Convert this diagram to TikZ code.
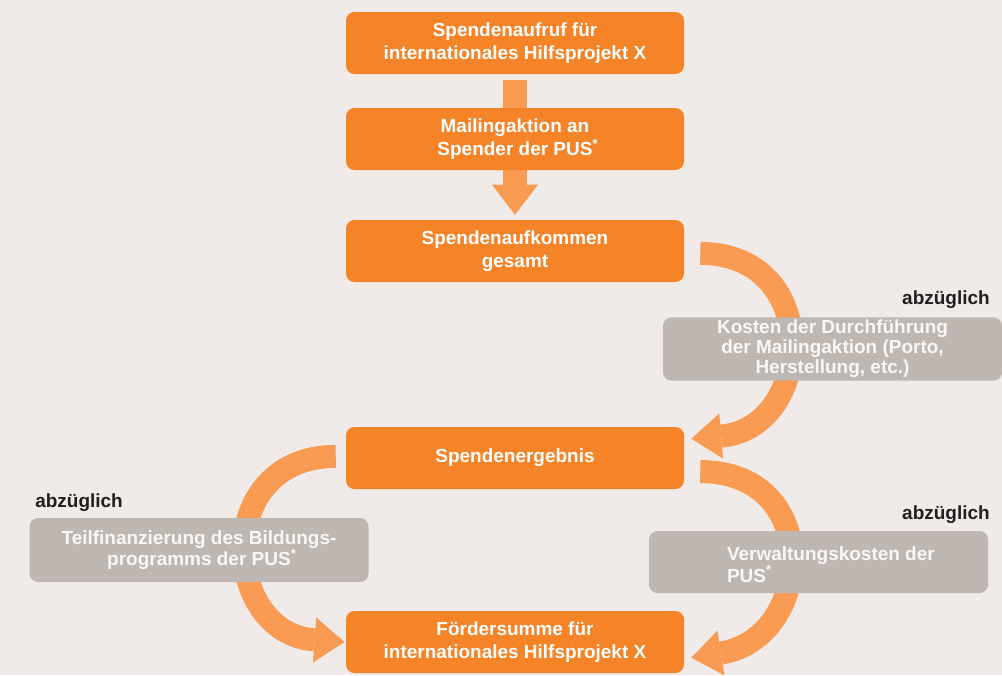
\documentclass[tikz,border=0pt]{standalone}
\usepackage{fontspec}
\setmainfont{Liberation Sans}
\definecolor{spendorange}{RGB}{245, 131, 40}
\definecolor{flowarrow}{RGB}{249, 155, 82}
\definecolor{costgrey}{RGB}{190, 183, 178}
\definecolor{paper}{RGB}{240, 235, 232}
\definecolor{minusdark}{RGB}{35, 31, 32}
\usetikzlibrary{arrows.meta, positioning, calc}
\pgfdeclarelayer{paperlayer}
\pgfdeclarelayer{flowlayer}
\pgfsetlayers{paperlayer,flowlayer,main}

\begin{document}
\begin{tikzpicture}[
  obox/.style={fill=spendorange, text=white, rounded corners=6pt, minimum width=8.45cm, minimum height=1.55cm, align=center, font=\bfseries\fontsize{13.5}{16.4}\selectfont, inner sep=2pt},
  gbox/.style={fill=costgrey, text=paper!40!white, rounded corners=6pt, minimum width=8.475cm, minimum height=1.55cm, align=center, font=\bfseries\fontsize{13.5}{15.4}\selectfont, inner sep=2pt},
  minus/.style={text=minusdark, font=\bfseries\fontsize{13.5}{16}\selectfont, inner sep=0pt},
  fatline/.style={draw=flowarrow, line width=0.62cm},
  fatarrow/.style={draw=flowarrow, line width=0.6cm, -{Triangle[length=0.75cm, width=1.15cm, line width=0pt]}},
  bendarrow/.style={draw=flowarrow, line width=0.575cm, -{Triangle[length=0.75cm, width=1.13cm, line width=0pt]}}
]
  \begin{pgfonlayer}{paperlayer}
    \fill[paper] (0, 0) rectangle (25.05, -16.875);
  \end{pgfonlayer}
  \useasboundingbox (0, 0) rectangle (25.05, -16.875);

  \node[obox] (aufruf) at (12.875, -1.075) {Spendenaufruf für\\internationales Hilfsprojekt X};
  \node[obox] (mailing) at (12.875, -3.475) {Mailingaktion an\\Spender der PUS\rlap{\textsuperscript{*}}};
  \node[obox] (gesamt) at (12.875, -6.275) {Spendenaufkommen\\gesamt};
  \node[obox] (ergebnis) at (12.875, -11.45) {Spendenergebnis};
  \node[obox] (foerder) at (12.875, -16.05) {Fördersumme für\\internationales Hilfsprojekt X};

  \node[gbox, font=\bfseries\fontsize{13.5}{14.2}\selectfont] (kosten) at (20.8125, -8.725) {Kosten der Durchführung\\der Mailingaktion (Porto,\\Herstellung, etc.)};
  \node[gbox, minimum height=1.6cm] (bildung) at (4.975, -13.75) {Teilfinanzierung des Bildungs-\\programms der PUS\rlap{\textsuperscript{*}}};
  \node[gbox] (verwaltung) at (20.4625, -14.05) {};
  \node[gbox, fill=none, minimum width=0pt, minimum height=0pt, inner sep=0pt, align=left, anchor=west]
    (verwtext) at ([xshift=1.95cm, yshift=-0.06cm]verwaltung.west) {Verwaltungskosten der\\PUS\textsuperscript{*}};

  \node[minus, anchor=east] (minus1) at (24.75, -7.5) {abzüglich};
  \node[minus, anchor=west] (minus2) at (0.875, -12.575) {abzüglich};
  \node[minus, anchor=east] (minus3) at (24.75, -12.875) {abzüglich};

  \begin{pgfonlayer}{flowlayer}
    \draw[fatline] ([yshift=-0.15cm]aufruf.south) -- (mailing.north);
    \draw[fatarrow] (mailing.south) -- ([yshift=0.125cm]gesamt.north);
    \draw[bendarrow] ([shift={(0.4,-0.06)}]gesamt.east) to[out=0, in=5, looseness=1.7] ([shift={(0.175,-0.3)}]ergebnis.north east);
    \draw[bendarrow] ([shift={(0.4,-0.34)}]ergebnis.east) to[out=0, in=9, looseness=1.7] ([shift={(0.175,-1.175)}]foerder.north east);
    \draw[bendarrow] ([shift={(-0.25,0.04)}]ergebnis.west) to[out=180, in=176, looseness=1.7] ([xshift=-0.03cm]foerder.west);
  \end{pgfonlayer}
\end{tikzpicture}
\end{document}
